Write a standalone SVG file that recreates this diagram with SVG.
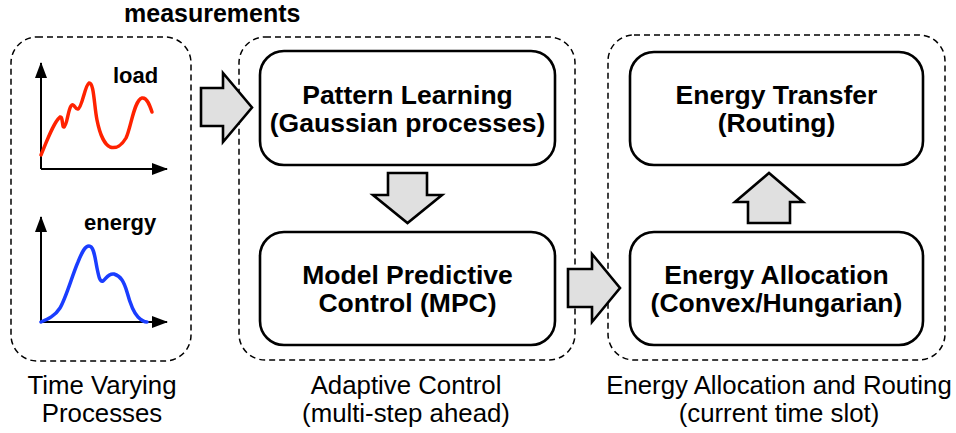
<svg xmlns="http://www.w3.org/2000/svg" width="956" height="433" viewBox="0 0 956 433">
<style>
  .grp{fill:none;stroke:#000;stroke-width:1.5;stroke-dasharray:6,4}
  .node{fill:#fff;stroke:#000;stroke-width:2.6}
  .nt{font-family:"Liberation Sans",Arial,sans-serif;font-weight:bold;font-size:26.5px;fill:#000;text-anchor:middle}
  .cap{font-family:"Liberation Sans",Arial,sans-serif;font-size:25.8px;fill:#000;text-anchor:middle}
  .lbl{font-family:"Liberation Sans",Arial,sans-serif;font-weight:bold;font-size:22px;fill:#000}
  .arr{fill:#e0e0e0;stroke:#000;stroke-width:2.6;stroke-linejoin:miter}
  .axis{stroke:#000;stroke-width:2;fill:none}
</style>
<defs>
  <marker id="axh" viewBox="0 0 16 12" refX="15" refY="6" markerWidth="17" markerHeight="12" markerUnits="userSpaceOnUse" orient="auto">
    <path d="M0,0 L16,6 L0,12 Z" fill="#000"/>
  </marker>
</defs>

<text class="lbl" x="124" y="22" style="font-size:25px">measurements</text>

<g id="time-varying">
  <rect class="grp" x="11" y="37" width="180" height="324" rx="26"/>
  <g id="load-chart">
    <line class="axis" x1="41" y1="169" x2="41" y2="63" marker-end="url(#axh)"/>
    <line class="axis" x1="41" y1="169" x2="167" y2="169" marker-end="url(#axh)"/>
    <path d="M41,155 C48,138 54,122 60,117 C63,116 62,128 64,127 C67,126 68,110 71,106 C74,102 75,110 78,109 C82,108 85,85 89,83 C94,82 94,105 97,120 C100,135 105,145 110,147 C116,149 122,145 126,138 C131,128 134,100 142,98 C147,97 150,106 152,112" fill="none" stroke="#ff2200" stroke-width="3.5" stroke-linecap="round" stroke-linejoin="round"/>
    <text class="lbl" x="113" y="83">load</text>
  </g>
  <g id="energy-chart">
    <line class="axis" x1="41" y1="322" x2="41" y2="217" marker-end="url(#axh)"/>
    <line class="axis" x1="41" y1="322" x2="167" y2="322" marker-end="url(#axh)"/>
    <path d="M41,322 C48,319 55,316 60,308 C66,298 72,276 78,262 C82,252 85,246 89,246 C94,246 95,258 97,268 C99,278 100,282 103,281 C106,279 108,273 114,274 C121,276 124,282 127,292 C130,303 133,312 138,317 C142,321 145,322 147,322" fill="none" stroke="#1a3dff" stroke-width="3.5" stroke-linecap="round" stroke-linejoin="round"/>
    <text class="lbl" x="84" y="230">energy</text>
  </g>
  <text class="cap" x="102" y="394">Time Varying</text>
  <text class="cap" x="102" y="422">Processes</text>
</g>

<g id="adaptive-control">
  <rect class="grp" x="239" y="37" width="336" height="323" rx="26"/>
  <text class="cap" x="406" y="394">Adaptive Control</text>
  <text class="cap" x="406" y="422">(multi-step ahead)</text>
</g>

<g id="pattern-learning">
  <rect class="node" x="260" y="51" width="295" height="114" rx="24"/>
  <text class="nt" x="407.5" y="104">Pattern Learning</text>
  <text class="nt" x="407.5" y="132">(Gaussian processes)</text>
</g>

<g id="mpc">
  <rect class="node" x="260" y="232" width="295" height="113" rx="24"/>
  <text class="nt" x="407.5" y="284">Model Predictive</text>
  <text class="nt" x="407.5" y="312">Control (MPC)</text>
</g>

<g id="allocation-routing">
  <rect class="grp" x="608" y="35" width="337" height="325" rx="26"/>
  <text class="cap" x="779" y="394">Energy Allocation and Routing</text>
  <text class="cap" x="779" y="422">(current time slot)</text>
</g>

<g id="energy-transfer">
  <rect class="node" x="630" y="52" width="293" height="113" rx="24"/>
  <text class="nt" x="776.5" y="104">Energy Transfer</text>
  <text class="nt" x="776.5" y="132">(Routing)</text>
</g>

<g id="energy-allocation">
  <rect class="node" x="630" y="232" width="293" height="113" rx="24"/>
  <text class="nt" x="776.5" y="284">Energy Allocation</text>
  <text class="nt" x="776.5" y="312">(Convex/Hungarian)</text>
</g>

<g id="connectors">
  <path class="arr" d="M201,88 L223,88 L223,73 L252,107.5 L223,142 L223,126 L201,126 Z"/>
  <path class="arr" d="M388,173 L427,173 L427,195 L442,195 L407.5,223 L373,195 L388,195 Z"/>
  <path class="arr" d="M568,269 L592,269 L592,254 L620,288 L592,322 L592,307 L568,307 Z"/>
  <path class="arr" d="M748,223 L790,223 L790,202 L803,202 L769,173 L735,202 L748,202 Z"/>
</g>
</svg>
